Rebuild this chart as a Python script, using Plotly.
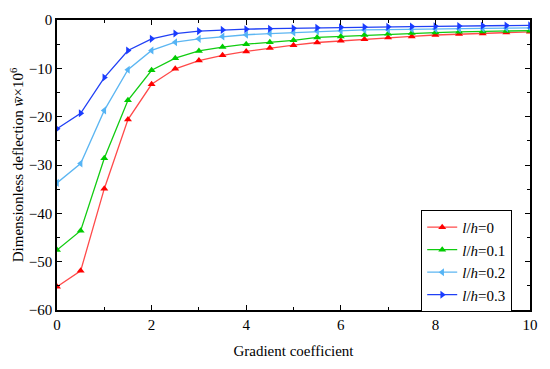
import plotly.graph_objects as go

x_vals = [0, 0.5, 1, 1.5, 2, 2.5, 3, 3.5, 4, 4.5, 5, 5.5, 6, 6.5, 7, 7.5, 8, 8.5, 9, 9.5, 10]

w_lh0 = [-55.2, -51.9, -34.9, -20.6, -13.3, -10.1, -8.4, -7.3, -6.5, -5.8, -5.2,
         -4.65, -4.3, -4.0, -3.6, -3.4, -3.1, -2.9, -2.8, -2.6, -2.45]
w_lh01 = [-47.6, -43.6, -28.6, -16.6, -10.4, -7.9, -6.4, -5.6, -5.0, -4.6, -4.2,
          -3.6, -3.4, -3.1, -2.85, -2.7, -2.6, -2.45, -2.4, -2.25, -2.2]
w_lh02 = [-33.7, -29.7, -18.7, -10.3, -6.3, -4.6, -3.9, -3.4, -3.05, -2.8, -2.6,
          -2.3, -2.2, -2.05, -2.0, -1.9, -1.85, -1.8, -1.75, -1.7, -1.65]
w_lh03 = [-22.5, -19.3, -11.9, -6.3, -3.9, -2.8, -2.3, -2.05, -1.9, -1.8, -1.7,
          -1.6, -1.5, -1.45, -1.4, -1.35, -1.3, -1.25, -1.2, -1.15, -1.1]

series_names = ["<i>l</i>/<i>h</i>=0", "<i>l</i>/<i>h</i>=0.1",
                "<i>l</i>/<i>h</i>=0.2", "<i>l</i>/<i>h</i>=0.3"]
series_vals = [w_lh0, w_lh01, w_lh02, w_lh03]
line_colors = ["#ff4a4a", "#11cc11", "#5cb6f2", "#2040f5"]
marker_colors = ["#ff0000", "#00cc00", "#55b4f5", "#1a3cff"]
symbols = ["triangle-up", "triangle-up", "triangle-left", "triangle-right"]

FONT = "Liberation Serif"

fig = go.Figure()
for name, vals, lc, mc, sym in zip(series_names, series_vals, line_colors, marker_colors, symbols):
    fig.add_trace(go.Scatter(
        x=x_vals, y=vals, name=name, mode="lines+markers",
        line=dict(color=lc, width=1.3),
        marker=dict(symbol=sym, size=7, color=mc),
    ))

axis_common = dict(
    showline=True, linecolor="black", linewidth=1.5, mirror="allticks",
    ticks="inside", ticklen=5, tickwidth=1.3, tickcolor="black",
    showgrid=False, zeroline=False, ticklabeloverflow="allow",
    tickfont=dict(family=FONT, size=15, color="black"),
)

fig.update_xaxes(
    range=[0, 10], tickmode="array", tickvals=[0, 2, 4, 6, 8, 10],
    minor=dict(tickvals=[1, 3, 5, 7, 9], ticks="inside", ticklen=3, tickwidth=1.3, tickcolor="black"),
    title=dict(text="Gradient coefficient", font=dict(family=FONT, size=15, color="black"), standoff=14),
    **axis_common,
)
fig.update_yaxes(
    range=[-60, 0], tickmode="array", tickvals=[-60, -50, -40, -30, -20, -10, 0],
    minor=dict(tickvals=[-55, -45, -35, -25, -15, -5], ticks="inside", ticklen=3, tickwidth=1.3, tickcolor="black"),
    title=dict(text="Dimensionless deflection <i>w̄</i>×10<sup>6</sup>",
               font=dict(family=FONT, size=15, color="black"), standoff=4),
    **axis_common,
)

fig.update_layout(
    width=534, height=353,
    margin=dict(l=49, r=8, t=4, b=48),
    paper_bgcolor="white", plot_bgcolor="white",
    showlegend=True,
    legend=dict(
        x=0.77, y=0.345, xanchor="left", yanchor="top",
        bordercolor="black", borderwidth=1, bgcolor="white",
        font=dict(family=FONT, size=15, color="black"),
        tracegroupgap=0, itemwidth=30,
    ),
)

fig.write_html("out.html")
